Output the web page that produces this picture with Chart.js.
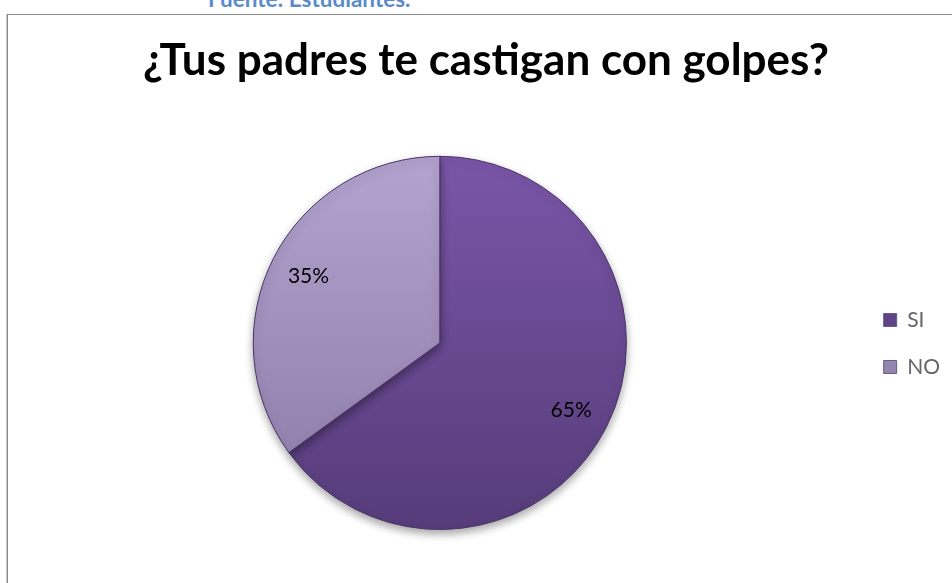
<!DOCTYPE html>
<html>
<head>
<meta charset="utf-8">
<script src="https://cdn.jsdelivr.net/npm/chart.js@4/dist/chart.umd.min.js"></script>
<style>
  html, body { margin: 0; padding: 0; background: #fff; width: 952px; height: 583px; overflow: hidden; }
  #wrap { position: relative; width: 952px; height: 583px; overflow: hidden; }
  #frame { position: absolute; left: 7px; top: 14px; width: 1200px; height: 1200px; border-left: 1px solid #8a8a8a; border-top: 1px solid #8a8a8a; box-shadow: -1px 0 0 #c8c8c8; }
  #source { position: absolute; left: 208px; top: -12px; font-family: Lato, sans-serif; font-weight: bold; font-size: 22.5px; color: #5a8acb; line-height: 1; white-space: nowrap; }
  canvas { position: absolute; left: 0; top: 0; }
</style>
</head>
<body>
<div id="wrap">
  <div id="frame"></div>
  <div id="source">Fuente: Estudiantes.</div>
  <canvas id="c" width="952" height="583"></canvas>
</div>
<script>
const titleText = '¿Tus padres te castigan con golpes?';
const categories = ['SI', 'NO'];
const values = [65, 35];
const topColors = ['#7b56a8', '#b4a2cf'];
const bottomColors = ['#563c7a', '#8a79a5'];
const legendColors = ['#5f4487', '#9384ae'];

function sliceGradient(ctx, i) {
  const chart = ctx.chart;
  const area = chart.chartArea;
  if (!area) return topColors[i];
  const g = chart.ctx.createLinearGradient(0, area.top, 0, area.bottom);
  g.addColorStop(0, topColors[i]);
  g.addColorStop(1, bottomColors[i]);
  return g;
}

const shadowPlugin = {
  id: 'pieShadow',
  beforeDatasetsDraw(chart) {
    const c = chart.ctx;
    c.save();
    c.shadowColor = 'rgba(0,0,0,0.35)';
    c.shadowBlur = 8;
    c.shadowOffsetX = 0;
    c.shadowOffsetY = 4;
  },
  afterDatasetsDraw(chart) {
    chart.ctx.restore();
  }
};

const labelPlugin = {
  id: 'sliceLabels',
  afterDatasetsDraw(chart) {
    const c = chart.ctx;
    const meta = chart.getDatasetMeta(0);
    c.save();
    c.font = '21px Lato, sans-serif';
    c.fillStyle = '#000';
    c.textAlign = 'center';
    c.textBaseline = 'middle';
    meta.data.forEach((arc, i) => {
      const p = arc.getProps(['x', 'y', 'startAngle', 'endAngle', 'outerRadius'], true);
      const mid = (p.startAngle + p.endAngle) / 2;
      const r = p.outerRadius * 0.79;
      c.fillText(values[i] + '%', p.x + Math.cos(mid) * r, p.y + Math.sin(mid) * r);
    });
    c.restore();
  }
};

new Chart(document.getElementById('c'), {
  type: 'pie',
  data: {
    labels: categories,
    datasets: [{
      data: values,
      backgroundColor: (ctx) => sliceGradient(ctx, ctx.dataIndex),
      borderColor: '#4a3568',
      borderWidth: 1
    }]
  },
  options: {
    responsive: false,
    animation: false,
    devicePixelRatio: 1,
    layout: { padding: { top: 0, bottom: 53, left: 22, right: 2 } },
    plugins: {
      title: {
        display: true,
        text: titleText,
        color: '#000',
        font: { family: 'Lato', weight: 'bold', size: 44 },
        padding: { top: 34, bottom: 69 }
      },
      legend: {
        position: 'right',
        title: {
          display: true,
          text: ' ',
          font: { size: 10 },
          padding: { top: 145, bottom: 0 }
        },
        labels: {
          color: '#000',
          font: { family: 'Lato', size: 21 },
          boxWidth: 13,
          boxHeight: 13,
          padding: 26,
          generateLabels(chart) {
            return categories.map((t, i) => ({
              text: t,
              fillStyle: legendColors[i],
              strokeStyle: '#6a5a8a',
              lineWidth: 1,
              hidden: false,
              index: i
            }));
          }
        }
      },
      tooltip: { enabled: false }
    }
  },
  plugins: [shadowPlugin, labelPlugin]
});
</script>
</body>
</html>
